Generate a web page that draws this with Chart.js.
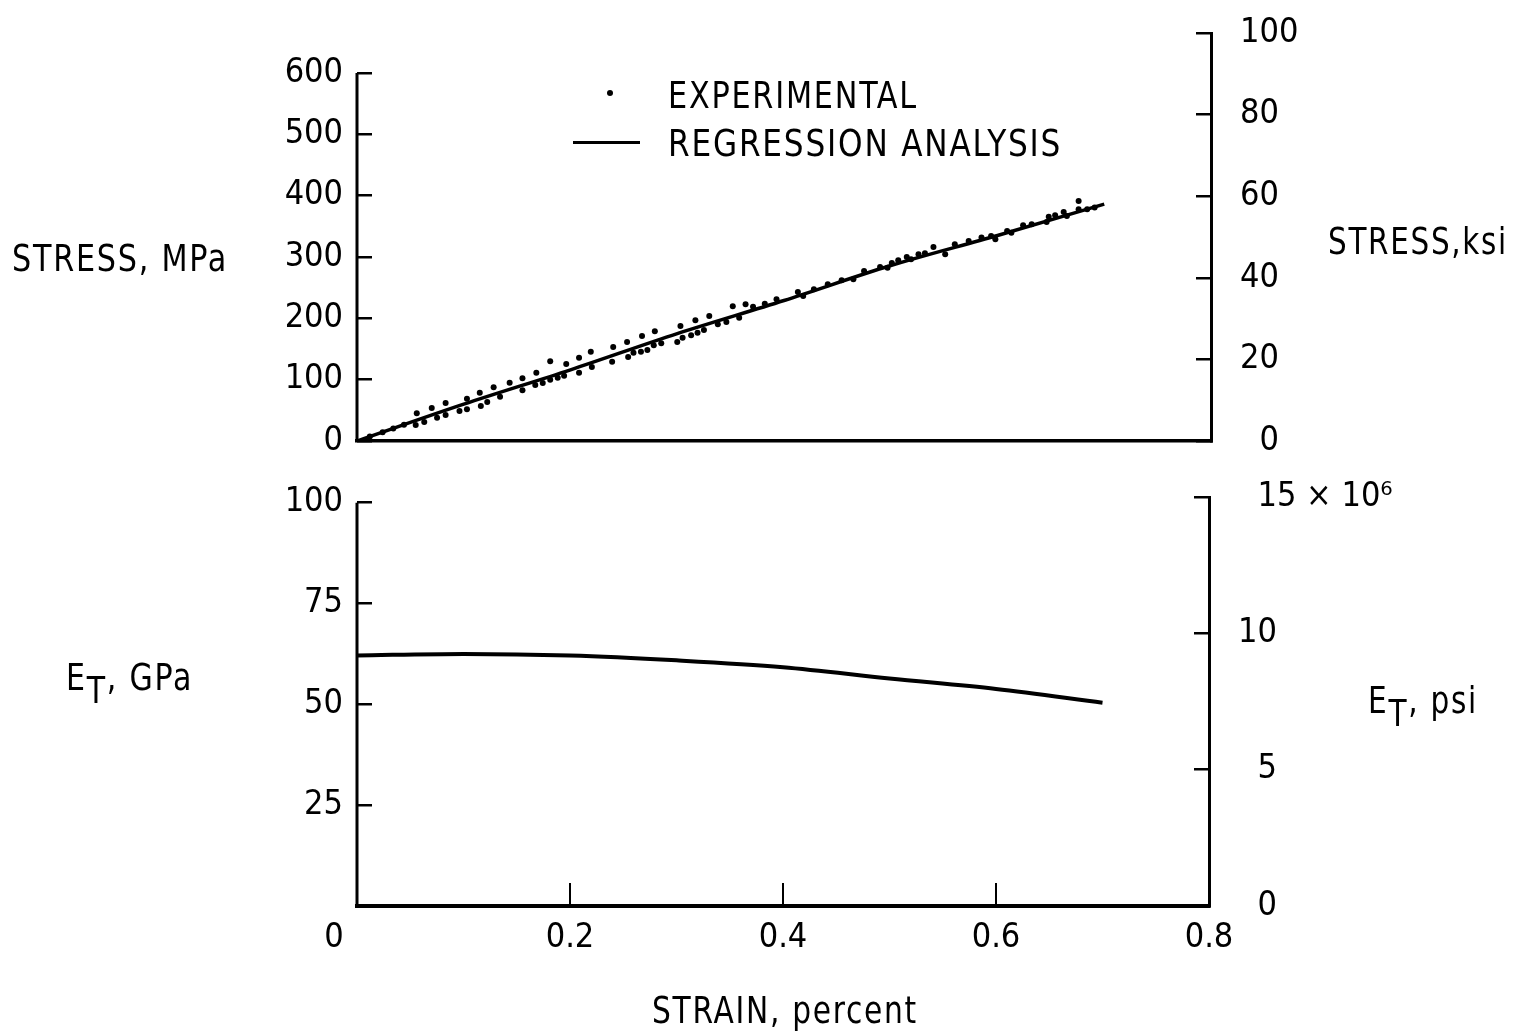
<!DOCTYPE html>
<html>
<head>
<meta charset="utf-8">
<script src="https://cdn.jsdelivr.net/npm/chart.js@4.4.1/dist/chart.umd.min.js"></script>
<style>
  body { margin: 0; background: #fff; }
  #wrap {
    position: relative; width: 1525px; height: 1035px; overflow: hidden;
    font-family: 'Liberation Sans Narrow', 'DejaVu Sans Condensed', 'Liberation Sans', sans-serif;
    color: #000;
  }
  canvas { position: absolute; left: 0; }
  .lbl {
    position: absolute; font-size: 38px; line-height: 38px; white-space: nowrap;
    letter-spacing: 2px; transform-origin: 0 50%;
  }
  .sub { position: relative; top: 13px; }
  .dot { position: absolute; width: 6px; height: 6px; border-radius: 50%; background: #000; }
  .dash { position: absolute; height: 3px; background: #000; }
</style>
</head>
<body>
<div id="wrap">
  <canvas id="stress" width="1525" height="460" style="top:0"></canvas>
  <canvas id="modulus" width="1525" height="575" style="top:460px"></canvas>

  <div class="dot" style="left:607px;top:90px"></div>
  <div class="lbl" data-w="250" style="left:668px;top:76px">EXPERIMENTAL</div>
  <div class="dash" style="left:573px;top:141px;width:67px"></div>
  <div class="lbl" data-w="394" style="left:668px;top:124px">REGRESSION ANALYSIS</div>

  <div class="lbl" data-w="216" style="left:12px;top:239px">STRESS, MPa</div>
  <div class="lbl" data-w="180" style="left:1328px;top:222px">STRESS,ksi</div>
  <div class="lbl" data-w="127" style="left:66px;top:658px">E<span class="sub">T</span>, GPa</div>
  <div class="lbl" data-w="110" style="left:1368px;top:681px">E<span class="sub">T</span>, psi</div>
  <div class="lbl" data-w="266" style="left:652px;top:991px">STRAIN, percent</div>
</div>

<script>
// strain in percent, stress in MPa, tangent modulus in GPa
const fitStrain = [0, 0.1, 0.2, 0.3, 0.4, 0.5, 0.6, 0.7];
const fitStress = [0, 60, 116, 175, 229, 286, 335, 386];
const tangentModulus = [62.1, 62.5, 62.1, 60.9, 59.2, 56.4, 53.8, 50.4];

const expStrain = [
  0.012, 0.024, 0.034, 0.044, 0.055, 0.056, 0.063, 0.070, 0.075, 0.083,
  0.083, 0.096, 0.103, 0.103, 0.115, 0.116, 0.122, 0.128, 0.134, 0.143,
  0.155, 0.155, 0.167, 0.168, 0.174, 0.181, 0.181, 0.188, 0.194, 0.196,
  0.208, 0.208, 0.219, 0.220, 0.239, 0.240, 0.253, 0.254, 0.259, 0.266,
  0.267, 0.272, 0.278, 0.279, 0.285, 0.300, 0.303, 0.305, 0.313, 0.317,
  0.319, 0.325, 0.330, 0.338, 0.346, 0.352, 0.358, 0.364, 0.371, 0.382,
  0.393, 0.413, 0.418, 0.428, 0.441, 0.454, 0.465, 0.475, 0.490, 0.497,
  0.501, 0.507, 0.515, 0.519, 0.526, 0.532, 0.540, 0.551, 0.560, 0.573,
  0.585, 0.594, 0.598, 0.609, 0.613, 0.624, 0.632, 0.646, 0.648, 0.654,
  0.662, 0.665, 0.676, 0.676, 0.684, 0.691
];
const expStress = [
  7.3, 14.2, 20.4, 26.6, 26.1, 45.2, 31.0, 53.8, 38.0, 62.0,
  42.4, 48.9, 69.0, 51.7, 78.7, 57.1, 63.6, 87.6, 72.2, 95.1,
  102.2, 82.7, 91.3, 111.4, 94.6, 129.9, 99.9, 103.2, 106.5, 125.5,
  135.8, 111.4, 145.6, 120.6, 129.3, 153.3, 161.4, 137.0, 144.0, 145.6,
  171.2, 148.4, 156.0, 178.9, 159.3, 161.4, 187.5, 168.4, 172.3, 196.8,
  176.6, 181.0, 203.8, 190.3, 194.0, 219.6, 201.0, 222.9, 219.0, 223.9,
  231.0, 242.9, 236.4, 247.3, 255.5, 262.0, 263.6, 277.2, 283.7, 282.5,
  290.2, 294.6, 300.0, 296.2, 304.4, 306.0, 316.3, 304.4, 320.7, 326.1,
  331.5, 334.2, 328.8, 342.4, 339.6, 351.7, 353.3, 357.1, 365.7, 368.0,
  373.4, 366.8, 391.3, 377.8, 377.8, 380.4
];

const strainTicks = [0, 0.2, 0.4, 0.6, 0.8];
const mpaTicks = [0, 100, 200, 300, 400, 500, 600];
const ksiTicks = [0, 20, 40, 60, 80, 100];
const gpaTicks = [25, 50, 75, 100];
const psiTicks = [0, 5, 10, 15];

const FONT = { family: "'Liberation Sans Narrow', 'DejaVu Sans Condensed', 'Liberation Sans', sans-serif", size: 34 };
const FIG = '\u2007';

// squeeze the html captions to their lettered widths
document.querySelectorAll('.lbl[data-w]').forEach(el => {
  const w = el.getBoundingClientRect().width;
  el.style.transform = 'scaleX(' + (+el.dataset.w / w).toFixed(3) + ')';
});

const setTicks = values => scale => { scale.ticks = values.map(v => ({ value: v })); };
// fixed axis width; drop the label overhang so the plot area stays put
const fixY = w => scale => { scale.width = w; scale.paddingTop = 0; scale.paddingBottom = 0; };
const fixX = h => scale => { scale.height = h; };

// inward tick marks, no grid lines
const tickGrid = len => ({ drawOnChartArea: false, tickLength: -len, tickWidth: 2.5, lineWidth: 2.5, tickColor: '#000' });

// left spine only runs up to the highest labelled tick
const leftSpine = {
  id: 'leftSpine',
  afterDraw(chart, args, opts) {
    const s = chart.scales.y;
    const ctx = chart.ctx;
    ctx.save();
    ctx.strokeStyle = '#000';
    ctx.lineWidth = 3;
    ctx.beginPath();
    ctx.moveTo(s.right, s.getPixelForValue(opts.top));
    ctx.lineTo(s.right, chart.chartArea.bottom + 1);
    ctx.stroke();
    ctx.restore();
  }
};

const pts = (xs, ys) => xs.map((x, i) => ({ x: x, y: ys[i] }));

new Chart(document.getElementById('stress'), {
  type: 'scatter',
  data: {
    datasets: [
      {
        label: 'EXPERIMENTAL',
        data: pts(expStrain, expStress),
        pointRadius: 3,
        pointBackgroundColor: '#000',
        pointBorderWidth: 0
      },
      {
        label: 'REGRESSION ANALYSIS',
        data: pts(fitStrain, fitStress),
        showLine: true,
        borderColor: '#000',
        borderWidth: 3.5,
        pointRadius: 0,
        cubicInterpolationMode: 'monotone'
      }
    ]
  },
  options: {
    responsive: false,
    animation: false,
    devicePixelRatio: 1,
    layout: { padding: { top: 33, left: 0, right: 0, bottom: 0 } },
    plugins: { legend: { display: false }, tooltip: { enabled: false }, leftSpine: { top: 600 } },
    scales: {
      x: {
        type: 'linear', min: 0, max: 0.8,
        grid: { display: false },
        ticks: { display: false },
        border: { color: '#000', width: 3.5 },
        afterFit: fixX(19)
      },
      y: {
        position: 'left', min: 0, max: 665,
        afterBuildTicks: setTicks(mpaTicks),
        afterFit: fixY(357),
        grid: tickGrid(15),
        border: { display: false },
        ticks: { font: FONT, color: '#000', padding: 29 }
      },
      y2: {
        position: 'right', min: 0, max: 100,
        afterBuildTicks: setTicks(ksiTicks),
        afterFit: fixY(314),
        grid: tickGrid(15),
        border: { color: '#000', width: 3 },
        ticks: { font: FONT, color: '#000', padding: 44, callback: v => (v < 10 ? FIG : '') + v }
      }
    }
  },
  plugins: [leftSpine]
});

new Chart(document.getElementById('modulus'), {
  type: 'scatter',
  data: {
    datasets: [
      {
        label: 'E_T',
        data: pts(fitStrain, tangentModulus),
        showLine: true,
        borderColor: '#000',
        borderWidth: 4,
        pointRadius: 0,
        cubicInterpolationMode: 'monotone'
      }
    ]
  },
  options: {
    responsive: false,
    animation: false,
    devicePixelRatio: 1,
    layout: { padding: { top: 37, left: 0, right: 0, bottom: 0 } },
    plugins: { legend: { display: false }, tooltip: { enabled: false }, leftSpine: { top: 100 } },
    scales: {
      x: {
        type: 'linear', min: 0, max: 0.8,
        afterBuildTicks: setTicks(strainTicks),
        afterFit: fixX(129),
        grid: { drawOnChartArea: false, tickLength: -23, tickWidth: 2, lineWidth: 2, tickColor: '#000' },
        border: { color: '#000', width: 4 },
        ticks: {
          font: FONT, color: '#000', padding: 35, maxRotation: 0, autoSkip: false,
          callback: v => (v === 0 ? '0\u2003\u2002' : v.toFixed(1))
        }
      },
      y: {
        position: 'left', min: 0, max: 101.4,
        afterBuildTicks: setTicks(gpaTicks),
        afterFit: fixY(357),
        grid: tickGrid(15),
        border: { display: false },
        ticks: { font: FONT, color: '#000', padding: 29 }
      },
      y2: {
        position: 'right', min: 0, max: 15,
        afterBuildTicks: setTicks(psiTicks),
        afterFit: fixY(316),
        grid: tickGrid(15),
        border: { color: '#000', width: 3 },
        ticks: {
          font: FONT, color: '#000', padding: 44,
          callback: v => (v === 15 ? FIG + '15 \u00d7 10\u2076' : (v < 10 ? FIG : '') + v)
        }
      }
    }
  },
  plugins: [leftSpine]
});
</script>
</body>
</html>
